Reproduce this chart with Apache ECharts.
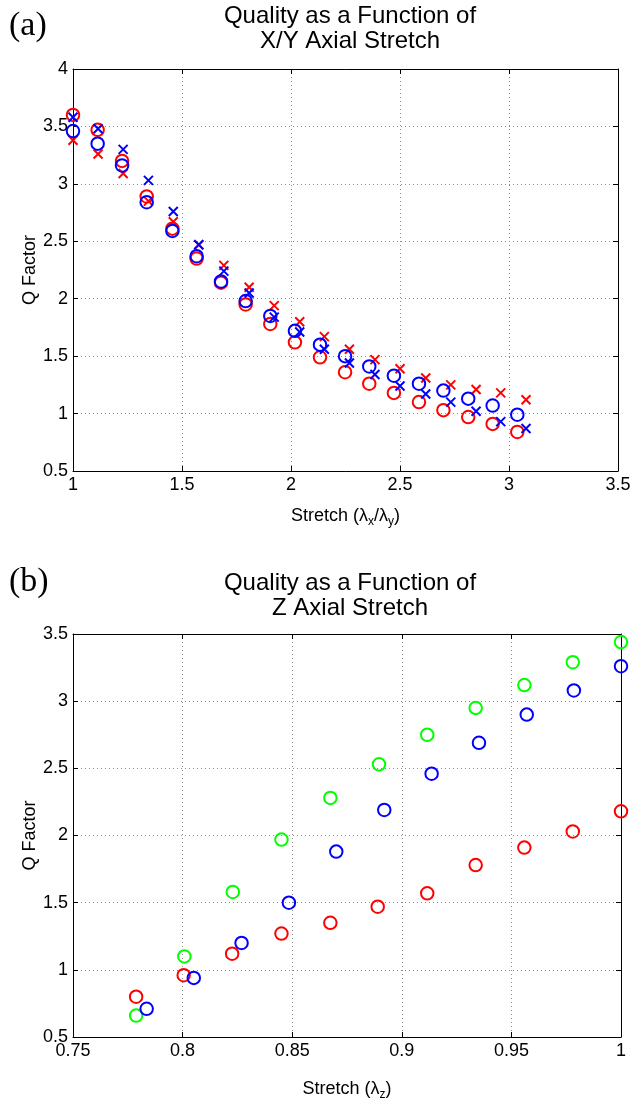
<!DOCTYPE html>
<html>
<head>
<meta charset="utf-8">
<title>Quality as a Function of Axial Stretch</title>
<script src="https://cdn.jsdelivr.net/npm/echarts@6/dist/echarts.min.js"></script>
<style>
	html, body { margin: 0; padding: 0; background: #ffffff; }
	#chart { width: 644px; height: 1104px; }
</style>
</head>
<body>
<div id="chart"></div>
<script>

// (a) stretch in x/y - circles and crosses sit on slightly different stretch values
var xyStretchCircles = [1.000, 1.113, 1.225, 1.338, 1.456, 1.567, 1.679, 1.792, 1.905, 2.018, 2.133, 2.248, 2.359, 2.472, 2.587, 2.699, 2.813, 2.925, 3.038];
var xyStretchCrosses = [1.000, 1.115, 1.230, 1.346, 1.460, 1.577, 1.692, 1.808, 1.923, 2.040, 2.153, 2.268, 2.385, 2.500, 2.618, 2.733, 2.849, 2.962, 3.078];
var xyRedCircles = [3.60, 3.47, 3.20, 2.89, 2.61, 2.35, 2.14, 1.95, 1.78, 1.62, 1.49, 1.36, 1.26, 1.18, 1.10, 1.03, 0.97, 0.91, 0.84];
var xyBlueCircles = [3.46, 3.35, 3.16, 2.84, 2.59, 2.37, 2.15, 1.98, 1.85, 1.72, 1.60, 1.50, 1.41, 1.33, 1.26, 1.20, 1.13, 1.07, 0.99];
var xyRedCrosses = [3.38, 3.26, 3.09, 2.85, 2.67, 2.47, 2.29, 2.10, 1.94, 1.80, 1.67, 1.56, 1.47, 1.39, 1.31, 1.25, 1.21, 1.18, 1.12];
var xyBlueCrosses = [3.58, 3.48, 3.30, 3.03, 2.76, 2.47, 2.24, 2.05, 1.84, 1.71, 1.56, 1.44, 1.34, 1.24, 1.17, 1.10, 1.02, 0.93, 0.87];

// (b) stretch in z
var zStretchGreen = [0.7788, 0.8008, 0.8229, 0.8451, 0.8674, 0.8896, 0.9116, 0.9337, 0.9559, 0.9780, 1.0000];
var zStretchRed = [0.7788, 0.8005, 0.8226, 0.8451, 0.8674, 0.8890, 0.9116, 0.9337, 0.9559, 0.9780, 1.0000];
var zStretchBlue = [0.7836, 0.8051, 0.8269, 0.8485, 0.8701, 0.8920, 0.9136, 0.9352, 0.9570, 0.9785, 1.0000];
var zGreen = [0.66, 1.10, 1.58, 1.97, 2.28, 2.53, 2.75, 2.95, 3.12, 3.29, 3.44];
var zRed = [0.80, 0.96, 1.12, 1.27, 1.35, 1.47, 1.57, 1.78, 1.91, 2.03, 2.18];
var zBlue = [0.71, 0.94, 1.20, 1.50, 1.88, 2.19, 2.46, 2.69, 2.90, 3.08, 3.26];

// axis ranges and tick steps
var xyStretchAxis = { min: 1, max: 3.5, interval: 0.5 };
var xyQAxis = { min: 0.5, max: 4, interval: 0.5 };
var zStretchAxis = { min: 0.75, max: 1, interval: 0.05 };
var zQAxis = { min: 0.5, max: 3.5, interval: 0.5 };

var Plot = (function () {

	var sansFont = '"Liberation Sans", Arial, Helvetica, sans-serif';
	var serifFont = '"Liberation Serif", "DejaVu Serif", serif';
	var crossSymbol = 'path://M0,0L10,10M10,0L0,10';

	var subStyle = { fontSize: 12, fontFamily: sansFont, color: '#000', padding: [12, 0, 0, 0] };

	/** zips two arrays into [x, y] pairs for a scatter series */
	var zip = function (pX, pY) {
		var result = [];
		for (var i = 0; i < pY.length; i++) {
			result.push([pX[i], pY[i]]);
		}
		return result;
	};

	/** main axis with labels and dotted grid, plus the mirrored box axis */
	var buildAxes = function (pRange, pGridIndex, pMainPos, pMirrorPos, pName, pNameGap) {
		var main = {
			type: 'value',
			gridIndex: pGridIndex,
			position: pMainPos,
			min: pRange.min,
			max: pRange.max,
			interval: pRange.interval,
			name: pName,
			nameLocation: 'middle',
			nameGap: pNameGap,
			nameMoveOverlap: false,
			nameTextStyle: { fontSize: 18, fontFamily: sansFont, color: '#000', rich: { sub: subStyle } },
			axisLine: { show: true, onZero: false, lineStyle: { color: '#000', width: 1 } },
			axisTick: { show: true, inside: true, length: 5, lineStyle: { color: '#000' } },
			axisLabel: { show: true, fontSize: 18, fontFamily: sansFont, color: '#000', margin: 5 },
			splitLine: { show: true, lineStyle: { color: '#8c8c8c', width: 1, type: [1, 3] } }
		};
		var mirror = {
			type: 'value',
			gridIndex: pGridIndex,
			position: pMirrorPos,
			min: pRange.min,
			max: pRange.max,
			interval: pRange.interval,
			axisLine: { show: true, onZero: false, lineStyle: { color: '#000', width: 1 } },
			axisTick: { show: true, inside: true, length: 5, lineStyle: { color: '#000' } },
			axisLabel: { show: false },
			splitLine: { show: false }
		};
		return [main, mirror];
	};

	var circleSeries = function (pX, pY, pColor, pAxisIndex) {
		return {
			type: 'scatter',
			xAxisIndex: pAxisIndex,
			yAxisIndex: pAxisIndex,
			data: zip(pX, pY),
			symbol: 'circle',
			symbolSize: 12.5,
			silent: true,
			itemStyle: { color: 'rgba(0,0,0,0)', borderColor: pColor, borderWidth: 2, opacity: 1 }
		};
	};

	var crossSeries = function (pX, pY, pColor, pAxisIndex) {
		return {
			type: 'scatter',
			xAxisIndex: pAxisIndex,
			yAxisIndex: pAxisIndex,
			data: zip(pX, pY),
			symbol: crossSymbol,
			symbolSize: 9,
			silent: true,
			itemStyle: { color: 'rgba(0,0,0,0)', borderColor: pColor, borderWidth: 2, opacity: 1 }
		};
	};

	var titleOption = function (pText, pTop) {
		return {
			text: pText,
			left: 345,
			top: pTop,
			textAlign: 'center',
			textStyle: { fontSize: 24, fontWeight: 'normal', fontFamily: sansFont, color: '#000', lineHeight: 25 }
		};
	};

	var panelLabel = function (pText, pY) {
		return {
			type: 'text',
			x: 9,
			y: pY,
			style: { text: pText, font: '34px ' + serifFont, fill: '#000', verticalAlign: 'middle' }
		};
	};

	var draw = function () {
		var chart = echarts.init(document.getElementById('chart'), null, { renderer: 'canvas' });
		var xAxes = []
			.concat(buildAxes(xyStretchAxis, 0, 'bottom', 'top', 'Stretch (λ{sub|x}/λ{sub|y})', 33))
			.concat(buildAxes(zStretchAxis, 1, 'bottom', 'top', 'Stretch (λ{sub|z})', 40));
		var yAxes = []
			.concat(buildAxes(xyQAxis, 0, 'left', 'right', 'Q Factor', 34))
			.concat(buildAxes(zQAxis, 1, 'left', 'right', 'Q Factor', 34));
		var option = {
			animation: false,
			backgroundColor: '#ffffff',
			textStyle: { fontFamily: sansFont },
			title: [
				titleOption('Quality as a Function of\nX/Y Axial Stretch', -1),
				titleOption('Quality as a Function of\nZ Axial Stretch', 566)
			],
			graphic: [
				panelLabel('(a)', 26),
				panelLabel('(b)', 582)
			],
			grid: [
				{ left: 73, top: 69, width: 545, height: 402 },
				{ left: 73, top: 634, width: 548, height: 403 }
			],
			xAxis: xAxes,
			yAxis: yAxes,
			series: [
				circleSeries(xyStretchCircles, xyRedCircles, '#ff0000', 0),
				crossSeries(xyStretchCrosses, xyRedCrosses, '#ff0000', 0),
				circleSeries(xyStretchCircles, xyBlueCircles, '#0000ff', 0),
				crossSeries(xyStretchCrosses, xyBlueCrosses, '#0000ff', 0),
				circleSeries(zStretchGreen, zGreen, '#00ff00', 2),
				circleSeries(zStretchRed, zRed, '#ff0000', 2),
				circleSeries(zStretchBlue, zBlue, '#0000ff', 2)
			]
		};
		chart.setOption(option);
	};

	return {
		draw: draw
	};

})();

Plot.draw();
</script>
</body>
</html>
